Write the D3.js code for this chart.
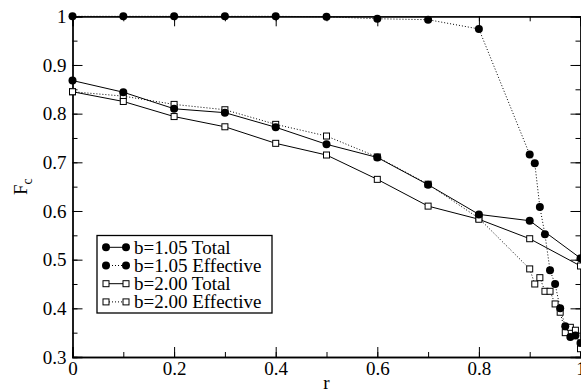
<!DOCTYPE html>
<html>
<head>
<meta charset="utf-8">
<script src="https://cdn.jsdelivr.net/npm/d3@7"></script>
<style>
  body { margin: 0; background: #fff; }
  text { font-family: "Liberation Serif", "Times New Roman", serif; fill: #000; }
</style>
</head>
<body>
<div id="chart"></div>
<script>
// data
var rMain = [0, 0.1, 0.2, 0.3, 0.4, 0.5, 0.6, 0.7, 0.8, 0.9, 1.0];
var rFine = [0, 0.1, 0.2, 0.3, 0.4, 0.5, 0.6, 0.7, 0.8, 0.9, 0.91, 0.92, 0.93, 0.94, 0.95, 0.96, 0.97, 0.98, 0.99, 1.0];

var b105Total = [0.868, 0.844, 0.810, 0.802, 0.772, 0.737, 0.710, 0.654, 0.593, 0.580, 0.503];
var b105Eff = [1.0, 1.0, 1.0, 1.0, 1.0, 0.999, 0.995, 0.993, 0.974, 0.716, 0.698, 0.608, 0.552, 0.478, 0.450, 0.400, 0.363, 0.341, 0.344, 0.329];
var b200Total = [0.845, 0.825, 0.794, 0.773, 0.739, 0.715, 0.665, 0.610, 0.583, 0.543, 0.487];
var b200Eff = [0.845, 0.836, 0.819, 0.808, 0.778, 0.754, 0.711, 0.655, 0.585, 0.481, 0.450, 0.463, 0.435, 0.435, 0.409, 0.392, 0.350, 0.361, 0.355, 0.317];

var legendLabels = ["b=1.05 Total", "b=1.05 Effective", "b=2.00 Total", "b=2.00 Effective"];
var xTicks = [0, 0.2, 0.4, 0.6, 0.8, 1];
var yTicks = [0.3, 0.4, 0.5, 0.6, 0.7, 0.8, 0.9, 1];

var width = 581, height = 392;
var margin = {left: 72.5, right: 0.5, top: 16.3, bottom: 35};

var svg = d3.select("#chart").append("svg")
  .attr("width", width)
  .attr("height", height);

var x = d3.scaleLinear().domain([0, 1]).range([margin.left, width - margin.right]);
var y = d3.scaleLinear().domain([0.3, 1]).range([height - margin.bottom, margin.top]);

var series = [
  {label: legendLabels[0], r: rMain, v: b105Total, marker: "circle", dash: null},
  {label: legendLabels[1], r: rFine, v: b105Eff, marker: "circle", dash: "1,2"},
  {label: legendLabels[2], r: rMain, v: b200Total, marker: "square", dash: null},
  {label: legendLabels[3], r: rFine, v: b200Eff, marker: "square", dash: "1,2"}
];

// axes (ticks point inward, mirrored on all sides)
var xMinor = d3.range(0, 1.0001, 0.1);
var yMinor = d3.range(0.3, 1.0001, 0.05);

function tickFmt(d) { return d === 0 || d === 1 ? d3.format("d")(d) : d3.format(".1f")(d); }

var axisG = svg.append("g");

axisG.append("g")
  .attr("transform", "translate(0," + y(0.3) + ")")
  .call(d3.axisBottom(x).tickValues(xMinor).tickSize(-5).tickFormat(""));
axisG.append("g")
  .attr("transform", "translate(0," + y(0.3) + ")")
  .call(d3.axisBottom(x).tickValues(xTicks).tickSize(-10).tickPadding(5).tickFormat(tickFmt));
axisG.append("g")
  .attr("transform", "translate(0," + y(1) + ")")
  .call(d3.axisTop(x).tickValues(xMinor).tickSize(-5).tickFormat(""));
axisG.append("g")
  .attr("transform", "translate(0," + y(1) + ")")
  .call(d3.axisTop(x).tickValues(xTicks).tickSize(-10).tickFormat(""));

axisG.append("g")
  .attr("transform", "translate(" + x(0) + ",0)")
  .call(d3.axisLeft(y).tickValues(yMinor).tickSize(-5).tickFormat(""));
axisG.append("g")
  .attr("transform", "translate(" + x(0) + ",0)")
  .call(d3.axisLeft(y).tickValues(yTicks).tickSize(-10).tickPadding(6).tickFormat(tickFmt));
axisG.append("g")
  .attr("transform", "translate(" + x(1) + ",0)")
  .call(d3.axisRight(y).tickValues(yMinor).tickSize(-5).tickFormat(""));
axisG.append("g")
  .attr("transform", "translate(" + x(1) + ",0)")
  .call(d3.axisRight(y).tickValues(yTicks).tickSize(-10).tickFormat(""));

axisG.selectAll(".domain").attr("stroke", "#000").attr("stroke-width", 1.3);
axisG.selectAll(".tick line").attr("stroke", "#000").attr("stroke-width", 1);
axisG.selectAll(".tick text")
  .style("font-family", "'Liberation Serif', serif")
  .style("font-size", "19px")
  .attr("fill", "#000");

// axis titles
svg.append("text")
  .attr("x", x(0.5))
  .attr("y", 389)
  .attr("text-anchor", "middle")
  .style("font-size", "19px")
  .text("r");

var yLab = svg.append("text")
  .attr("transform", "translate(27," + y(0.65) + ") rotate(-90)")
  .attr("text-anchor", "middle")
  .style("font-size", "19px");
yLab.append("tspan").text("F");
yLab.append("tspan").attr("dy", 5).style("font-size", "14px").text("c");

// lines + markers
var line = d3.line().x(d => x(d[0])).y(d => y(d[1]));

function drawMarker(g, kind, cx, cy) {
  if (kind === "circle") {
    g.append("circle").attr("cx", cx).attr("cy", cy).attr("r", 4).attr("fill", "#000");
  } else {
    g.append("rect").attr("x", cx - 3).attr("y", cy - 3).attr("width", 6).attr("height", 6)
      .attr("fill", "#fff").attr("stroke", "#000").attr("stroke-width", 1);
  }
}

var plotG = svg.append("g");

series.slice().reverse().forEach(function(s) {
  var pts = s.r.map((r, i) => [r, s.v[i]]);
  plotG.append("path")
    .datum(pts)
    .attr("d", line)
    .attr("fill", "none")
    .attr("stroke", "#000")
    .attr("stroke-width", 1)
    .attr("stroke-dasharray", s.dash);
});
series.slice().reverse().forEach(function(s) {
  var g = plotG.append("g");
  s.r.forEach(function(r, i) { drawMarker(g, s.marker, x(r), y(s.v[i])); });
});

// legend
var leg = svg.append("g");
leg.append("rect")
  .attr("x", 97).attr("y", 235.5).attr("width", 175).attr("height", 77.5)
  .attr("fill", "#fff").attr("stroke", "#000").attr("stroke-width", 1.3);

series.forEach(function(s, i) {
  var ly = 247.3 + i * 18.2;
  leg.append("line")
    .attr("x1", 106).attr("x2", 126).attr("y1", ly).attr("y2", ly)
    .attr("stroke", "#000").attr("stroke-width", 1)
    .attr("stroke-dasharray", s.dash);
  drawMarker(leg, s.marker, 106, ly);
  drawMarker(leg, s.marker, 126, ly);
  leg.append("text")
    .attr("x", 134).attr("y", ly + 6.5)
    .style("font-size", "19px")
    .text(s.label);
});
</script>
</body>
</html>
